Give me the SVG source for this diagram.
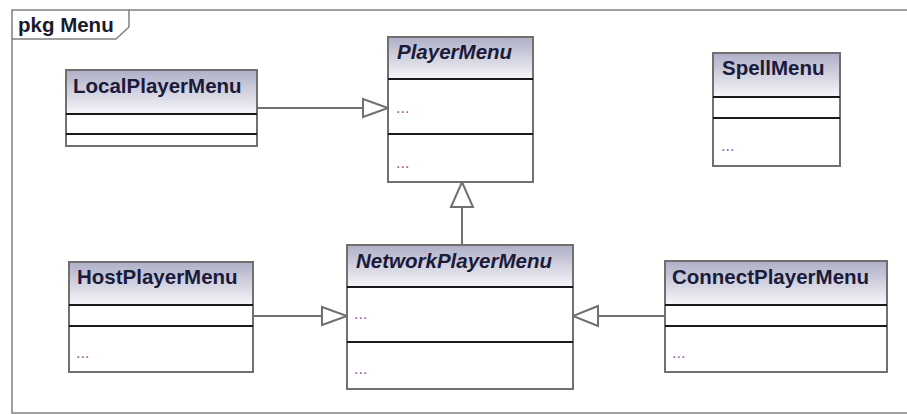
<svg xmlns="http://www.w3.org/2000/svg" width="907" height="414" viewBox="0 0 907 414">
<defs>
<linearGradient id="hdr" x1="0" y1="0" x2="0" y2="1">
<stop offset="0" stop-color="#b0b0c8"/>
<stop offset="1" stop-color="#f6f6fa"/>
</linearGradient>
<style>
.frame{fill:#fff;stroke:#808080;stroke-width:1.5}
.box{fill:#fff;stroke:#707070;stroke-width:2}
.hdr{fill:url(#hdr);stroke:none}
.sep{stroke:#1a1a1a;stroke-width:2}
.name{font-family:"Liberation Sans",Arial,sans-serif;font-size:20.5px;font-weight:bold;fill:#1a1a3a}
.abs{font-style:italic}
.dots{font-family:"Liberation Sans",Arial,sans-serif;font-size:16px;fill:#9060a0}
.conn{fill:none;stroke:#707070;stroke-width:2}
.head{fill:#fff;stroke:#707070;stroke-width:2}
.tab{font-family:"Liberation Sans",Arial,sans-serif;font-size:20.5px;font-weight:bold;fill:#1a1a2a}
</style>
</defs>
<rect width="907" height="414" fill="#fff"/>
<g id="frame">
<rect class="frame" x="12" y="10" width="900" height="403"/>
<path d="M12 39 H116 L129 27 V10" fill="none" stroke="#808080" stroke-width="1.5"/>
<text class="tab" x="18" y="32">pkg Menu</text>
</g>
<g id="connectors">
<line class="conn" x1="257" y1="108" x2="363" y2="108"/>
<polygon class="head" points="363,99 388,108 363,117"/>
<line class="conn" x1="462" y1="245" x2="462" y2="207"/>
<polygon class="head" points="451,207 462,182 473,207"/>
<line class="conn" x1="253" y1="316" x2="322" y2="316"/>
<polygon class="head" points="322,307 347,316 322,325"/>
<line class="conn" x1="665" y1="316" x2="598" y2="316"/>
<polygon class="head" points="598,306 573,316 598,326"/>
</g>
<g id="LocalPlayerMenu">
<rect class="box" x="66" y="70" width="191" height="76"/>
<rect class="hdr" x="67" y="71" width="189" height="43"/>
<line class="sep" x1="66" y1="114" x2="257" y2="114"/>
<line class="sep" x1="66" y1="134" x2="257" y2="134"/>
<text class="name" x="73" y="93">LocalPlayerMenu</text>
</g>
<g id="PlayerMenu">
<rect class="box" x="388" y="37" width="145" height="145"/>
<rect class="hdr" x="389" y="38" width="143" height="41"/>
<line class="sep" x1="388" y1="79" x2="533" y2="79"/>
<line class="sep" x1="388" y1="134" x2="533" y2="134"/>
<text class="name abs" x="397" y="59">PlayerMenu</text>
<text class="dots" x="396" y="113">...</text>
<text class="dots" x="396" y="168">...</text>
</g>
<g id="SpellMenu">
<rect class="box" x="713" y="53" width="127" height="113"/>
<rect class="hdr" x="714" y="54" width="125" height="43"/>
<line class="sep" x1="713" y1="97" x2="840" y2="97"/>
<line class="sep" x1="713" y1="118" x2="840" y2="118"/>
<text class="name" x="722" y="75">SpellMenu</text>
<text class="dots" x="721" y="151">...</text>
</g>
<g id="HostPlayerMenu">
<rect class="box" x="69" y="262" width="184" height="110"/>
<rect class="hdr" x="70" y="263" width="182" height="42"/>
<line class="sep" x1="69" y1="305" x2="253" y2="305"/>
<line class="sep" x1="69" y1="326" x2="253" y2="326"/>
<text class="name" x="77" y="284">HostPlayerMenu</text>
<text class="dots" x="76" y="358">...</text>
</g>
<g id="NetworkPlayerMenu">
<rect class="box" x="347" y="245" width="226" height="144"/>
<rect class="hdr" x="348" y="246" width="224" height="41"/>
<line class="sep" x1="347" y1="287" x2="573" y2="287"/>
<line class="sep" x1="347" y1="342" x2="573" y2="342"/>
<text class="name abs" x="356" y="268">NetworkPlayerMenu</text>
<text class="dots" x="354" y="319">...</text>
<text class="dots" x="354" y="374">...</text>
</g>
<g id="ConnectPlayerMenu">
<rect class="box" x="665" y="261" width="222" height="111"/>
<rect class="hdr" x="666" y="262" width="220" height="43"/>
<line class="sep" x1="665" y1="305" x2="887" y2="305"/>
<line class="sep" x1="665" y1="326" x2="887" y2="326"/>
<text class="name" x="672" y="284">ConnectPlayerMenu</text>
<text class="dots" x="672" y="358">...</text>
</g>
</svg>
